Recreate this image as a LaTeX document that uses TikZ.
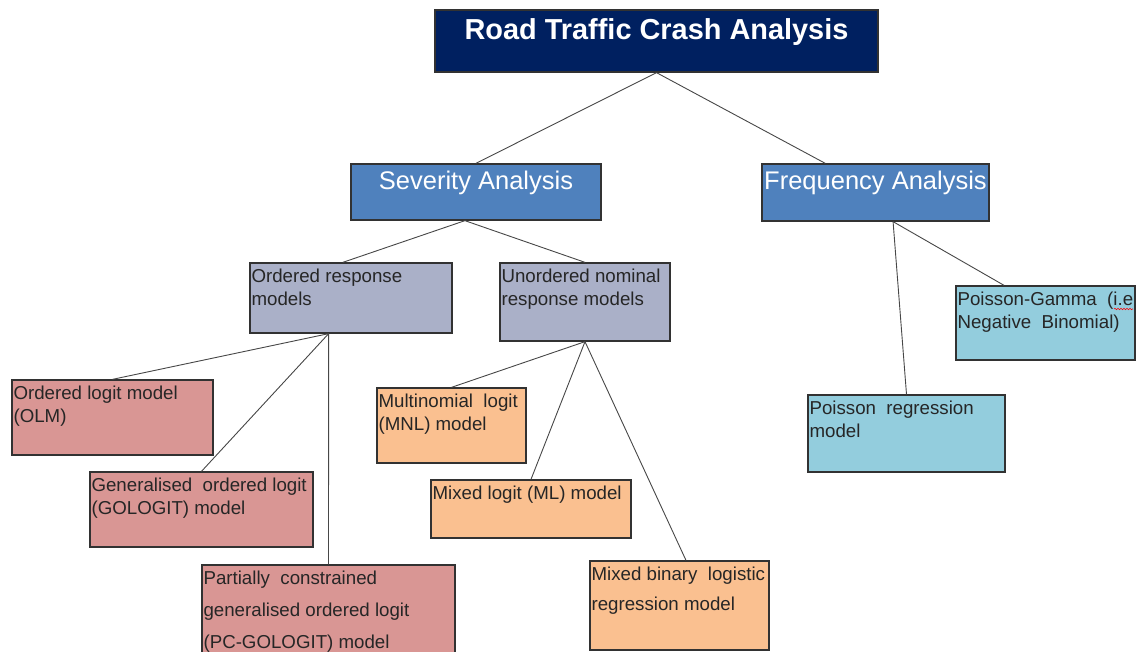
\documentclass[tikz,border=0pt]{standalone}
\usepackage{fontspec}
\setmainfont{Liberation Sans}
\usepackage{tikz}
\usetikzlibrary{positioning, calc, decorations.pathmorphing}

\definecolor{navy1}{RGB}{0, 32, 96}
\definecolor{blue1}{RGB}{79, 129, 189}
\definecolor{lav1}{RGB}{170, 176, 200}
\definecolor{rose1}{RGB}{217, 150, 148}
\definecolor{peach1}{RGB}{250, 192, 144}
\definecolor{cyan1}{RGB}{147, 205, 221}
\definecolor{edge1}{RGB}{50, 50, 50}

\tikzset{
  box/.style={draw=edge1, line width=1.3pt, rectangle, inner sep=0pt},
  txt/.style={anchor=north west, align=left, inner sep=2pt, yshift=-4pt, text=black!85,
    font=\fontsize{18.7}{23}\selectfont},
  head/.style={anchor=north, inner sep=7pt, text=white, font=\fontsize{25.5}{30}\selectfont},
  link/.style={draw=edge1!90, line width=0.9pt}
}

\begin{document}
\begin{tikzpicture}[x=1pt, y=-1pt]
  \useasboundingbox (0,0) rectangle (1136,652);
  \clip (0,0) rectangle (1136,652);

  % top level
  \node[box, fill=navy1, minimum width=443pt, minimum height=62pt,
    label={[anchor=north, inner sep=9pt, text=white, font=\fontsize{28.9}{32}\selectfont\bfseries]north:Road Traffic Crash Analysis}]
    (rtca) at (656.5,41) {};

  % second level
  \node[box, fill=blue1, minimum width=250pt, minimum height=56pt,
    label={[head]north:Severity Analysis}] (sev) at (476,192) {};
  \node[box, fill=blue1, minimum width=227pt, minimum height=57pt,
    label={[head]north:Frequency Analysis}] (freq) at (875.5,192.5) {};

  % severity: response types
  \node[box, fill=lav1, minimum width=202pt, minimum height=70pt,
    label={[txt]north west:Ordered response\\models}] (ord) at (351,298) {};
  \node[box, fill=lav1, minimum width=170pt, minimum height=78pt,
    label={[txt]north west:Unordered nominal\\response models}] (unord) at (585,302) {};

  % ordered models
  \node[box, fill=rose1, minimum width=201pt, minimum height=75pt,
    label={[txt]north west:Ordered logit model\\(OLM)}] (olm) at (112.5,417.5) {};
  \node[box, fill=rose1, minimum width=223pt, minimum height=75pt,
    label={[txt]north west:Generalised\ \ ordered logit\\(GOLOGIT) model}] (gol) at (201.5,509.5) {};
  \node[box, fill=rose1, minimum width=253pt, minimum height=100pt,
    label={[txt, font=\fontsize{18.7}{32}\selectfont]north west:Partially\ \ constrained\\generalised ordered logit\\(PC-GOLOGIT) model}]
    (pcg) at (328.5,615) {};

  % unordered models
  \node[box, fill=peach1, minimum width=149pt, minimum height=75pt,
    label={[txt]north west:Multinomial\ \ logit\\(MNL) model}] (mnl) at (451.5,425.5) {};
  \node[box, fill=peach1, minimum width=200pt, minimum height=58pt,
    label={[txt]north west:Mixed logit (ML) model}] (ml) at (531,509) {};
  \node[box, fill=peach1, minimum width=179pt, minimum height=89pt,
    label={[txt, font=\fontsize{18.7}{30}\selectfont]north west:Mixed binary\ \ logistic\\regression model}]
    (mbl) at (679.5,605.5) {};

  % frequency models
  \node[box, fill=cyan1, minimum width=179pt, minimum height=74pt,
    label={[txt]north west:Poisson-Gamma\ \ (i.e\\Negative\ \ Binomial)}] (pg) at (1045.5,323) {};
  \node[box, fill=cyan1, minimum width=197pt, minimum height=77pt,
    label={[txt]north west:Poisson\ \ regression\\model}] (pr) at (906.5,433.5) {};

  % spell-check mark
  \draw[red, line width=0.6pt, decorate, decoration={snake, amplitude=0.7pt, segment length=3pt}]
    (1114,309) -- (1133,309);

  % connectors
  \draw[link] (rtca.south) -- (sev.north);
  \draw[link] (rtca.south) -- ($(freq.north west)!0.28!(freq.north east)$);
  \draw[link] ($(sev.south west)!0.456!(sev.south east)$) -- ($(ord.north west)!0.46!(ord.north east)$);
  \draw[link] ($(sev.south west)!0.456!(sev.south east)$) -- (unord.north);
  \draw[link] ($(ord.south west)!0.39!(ord.south east)$) -- (olm.north);
  \draw[link] ($(ord.south west)!0.39!(ord.south east)$) -- (gol.north);
  \draw[link] ($(ord.south west)!0.39!(ord.south east)$) -- (pcg.north);
  \draw[link] (unord.south) -- (mnl.north);
  \draw[link] (unord.south) -- (ml.north);
  \draw[link] (unord.south) -- ($(mbl.north west)!0.536!(mbl.north east)$);
  \draw[link] ($(freq.south west)!0.577!(freq.south east)$) -- ($(pg.north west)!0.27!(pg.north east)$);
  \draw[link] ($(freq.south west)!0.577!(freq.south east)$) -- (pr.north);
\end{tikzpicture}
\end{document}
